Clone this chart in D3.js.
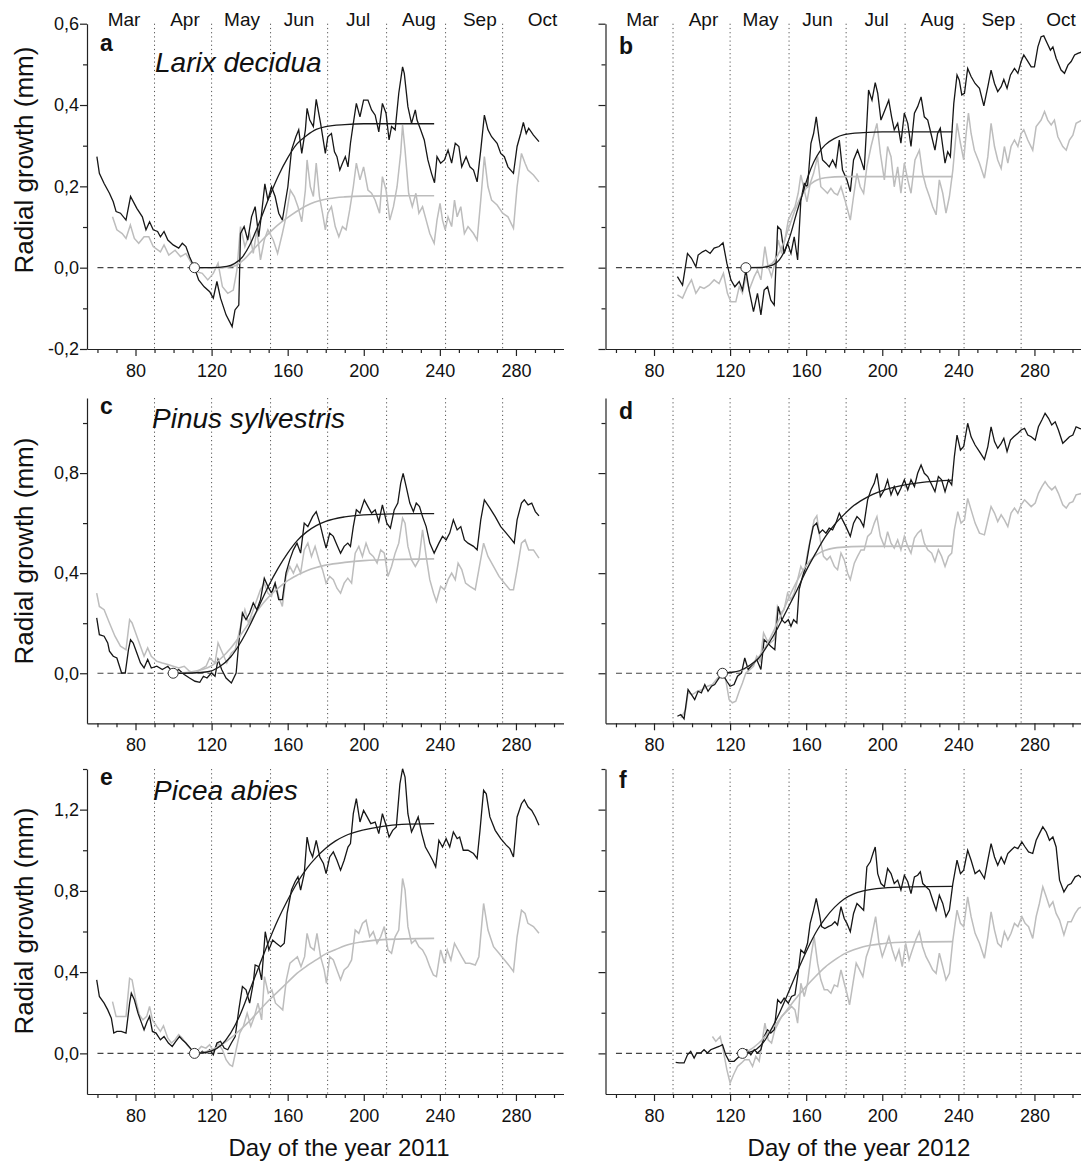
<!DOCTYPE html>
<html>
<head>
<meta charset="utf-8">
<script src="https://cdn.jsdelivr.net/npm/d3@7"></script>
<style>
body { margin: 0; background: #fff; }
svg { display: block; }
text { font-family: Arial, "Liberation Sans", sans-serif; fill: #111; }
</style>
</head>
<body>
<div id="chart"></div>
<script>
// tick labels / categories
const months = ["Mar", "Apr", "May", "Jun", "Jul", "Aug", "Sep", "Oct"];
const monthMid = [74, 106, 136, 166, 197, 229, 261, 294];
const monthBounds = [90, 120, 151, 181, 212, 243, 273];
const xMajor = [80, 120, 160, 200, 240, 280];
const xMinor = [60, 70, 90, 100, 110, 130, 140, 150, 170, 180, 190, 210, 220, 230, 250, 260, 270, 290, 300];
const species = ["Larix decidua", "Pinus sylvestris", "Picea abies"];
const letters = ["a", "b", "c", "d", "e", "f"];
const years = [2011, 2012];
const onsetDays = [111, 128.3, 99.8, 116, 111, 126.5];

// panel a: Larix 2011  [day, radial growth mm]
const aBlack = [[59.7,0.273],[61,0.232],[63.5,0.207],[66.3,0.183],[68.3,0.162],[69.8,0.138],[72.1,0.134],[75,0.117],[77.4,0.175],[80.7,0.146],[83.6,0.125],[85.5,0.093],[87.4,0.113],[89.3,0.093],[91.6,0.089],[93.1,0.076],[95,0.089],[97,0.068],[99.8,0.056],[102.7,0.048],[104.6,0.06],[106.5,0.052],[108.4,0.027],[111,0],[113.2,-0.03],[116.1,-0.047],[119,-0.059],[120.9,-0.075],[122.8,-0.034],[124.7,-0.075],[127.6,-0.116],[130.8,-0.145],[132.3,-0.104],[134.3,-0.092],[135.2,0.084],[137.1,0.101],[139,0.068],[141,0.125],[142.9,0.15],[144.8,0.076],[146.3,0.134],[148,0.206],[149.6,0.166],[151.5,0.199],[153.4,0.175],[155.3,0.134],[157.2,0.117],[160.1,0.199],[162,0.289],[164.3,0.322],[165.8,0.339],[167.4,0.281],[169.3,0.339],[170.2,0.392],[171.6,0.363],[173.5,0.347],[175,0.414],[177.3,0.355],[179.8,0.281],[181.1,0.322],[183,0.33],[184.6,0.285],[185.9,0.273],[187.4,0.24],[188.8,0.257],[190.3,0.273],[191.7,0.248],[193,0.306],[194.5,0.355],[196.1,0.404],[198,0.371],[199.9,0.412],[202.2,0.412],[204.1,0.388],[206,0.375],[207.9,0.334],[209.8,0.404],[211.7,0.38],[213.3,0.314],[214.6,0.347],[216.5,0.339],[218.4,0.429],[220.4,0.494],[221.3,0.478],[223.2,0.396],[225.1,0.355],[227.1,0.388],[228,0.363],[229.9,0.339],[231.8,0.314],[233.7,0.265],[235.6,0.232],[237.2,0.209],[238.5,0.273],[240.4,0.257],[242.4,0.265],[244.3,0.289],[246.2,0.257],[248.1,0.306],[250,0.298],[251.5,0.248],[253.8,0.273],[255.8,0.248],[257.7,0.24],[259.6,0.211],[261.5,0.289],[263.4,0.375],[265.3,0.339],[267.2,0.322],[270.1,0.306],[272,0.281],[273.9,0.273],[275.8,0.248],[278.7,0.232],[280.6,0.298],[282.5,0.33],[283.9,0.357],[285.4,0.33],[286.7,0.343],[289.2,0.326],[292.1,0.31]];
const aGray = [[67.9,0.125],[70.2,0.093],[73,0.084],[75,0.072],[77.3,0.105],[79.4,0.072],[81.7,0.06],[84.5,0.076],[87,0.076],[89.3,0.052],[93.1,0.039],[95,0.056],[97.5,0.031],[100.8,0.043],[103.7,0.027],[106.5,0.035],[109.4,0.011],[112.3,-0.01],[115.1,-0.014],[118,-0.03],[120.9,-0.014],[123.4,0.011],[125.7,-0.047],[128.5,-0.063],[131.4,-0.055],[133.3,-0.006],[135.2,0.101],[137.5,0.052],[140,0.084],[141.9,0.035],[143.8,0.093],[145.7,0.019],[147.7,0.068],[149.6,0.093],[152.4,0.068],[154.7,0.035],[157.2,0.084],[159.1,0.125],[161.4,0.191],[163.5,0.175],[165.4,0.15],[167.4,0.113],[169.3,0.191],[170.2,0.265],[171.9,0.199],[173.5,0.175],[175,0.257],[176.7,0.175],[178.3,0.134],[179.8,0.093],[181.1,0.134],[183,0.15],[185,0.101],[186.9,0.076],[188.8,0.101],[190.7,0.093],[192.6,0.142],[194.5,0.199],[196.1,0.257],[198,0.216],[199.9,0.248],[202.2,0.191],[204.1,0.183],[206,0.166],[208.3,0.134],[209.8,0.224],[211.7,0.191],[213.7,0.117],[215.6,0.15],[217.5,0.199],[219.4,0.281],[220.4,0.351],[221.7,0.289],[223.6,0.183],[225.5,0.15],[227.4,0.183],[229,0.134],[230.9,0.15],[232.8,0.117],[234.7,0.084],[237,0.06],[238.5,0.117],[240.1,0.158],[241.4,0.117],[242.8,0.093],[244.3,0.125],[246.2,0.101],[247.7,0.166],[249.1,0.125],[251,0.15],[252.9,0.084],[254.8,0.101],[257.7,0.084],[259.6,0.068],[261.5,0.166],[263.4,0.273],[265.3,0.199],[267.2,0.166],[270.1,0.154],[273,0.134],[275.8,0.125],[278.7,0.097],[280.6,0.199],[282.9,0.281],[284.8,0.257],[286.3,0.24],[289.2,0.228],[292.1,0.211]];
const aFitBlack = [[111,0],[120,0],[128,0.003],[132,0.01],[136,0.025],[140,0.055],[145,0.11],[150,0.17],[155,0.225],[160,0.27],[165,0.305],[170,0.325],[175,0.34],[180,0.347],[190,0.352],[200,0.354],[237,0.354]];
const aFitGray = [[111,0],[125,0],[132,0.004],[137,0.02],[142,0.045],[147,0.07],[152,0.093],[157,0.113],[162,0.13],[167,0.145],[172,0.157],[177,0.165],[182,0.17],[190,0.174],[200,0.176],[237,0.177]];

// panel b: Larix 2012
const bBlack = [[92.3,-0.022],[95,-0.043],[97.6,0.035],[99.7,0.023],[102,0.002],[103.2,0.031],[105.5,0.039],[107.2,0.043],[109.5,0.035],[111.6,0.048],[114.2,0.052],[116.3,0.061],[118.3,0.011],[120.4,-0.03],[122.5,-0.047],[124.8,-0.034],[126.5,-0.055],[128.3,-0.006],[130,-0.055],[132.3,-0.108],[134.4,-0.063],[136.2,-0.116],[137.9,-0.055],[139.7,-0.047],[141.4,-0.08],[143.2,-0.092],[145,0.101],[146.7,0.093],[148.4,0.035],[150.2,0.06],[152,0.035],[153.7,0.076],[155.5,0.019],[157.2,0.166],[159,0.207],[160.7,0.199],[162.5,0.306],[163.9,0.33],[165.3,0.371],[166.9,0.314],[168.6,0.265],[170.4,0.257],[172.1,0.248],[173.9,0.265],[175.6,0.248],[177.4,0.314],[179.1,0.24],[181.4,0.216],[183.2,0.187],[184.9,0.265],[187,0.289],[188.8,0.265],[190.5,0.24],[191.8,0.347],[192.8,0.437],[194.6,0.412],[196.3,0.455],[197.6,0.429],[199.3,0.363],[201.4,0.388],[203.4,0.412],[204.9,0.371],[206.3,0.339],[208.1,0.355],[209.8,0.306],[211.6,0.38],[213.4,0.355],[215.1,0.298],[216.9,0.38],[218.6,0.396],[220.4,0.42],[222.1,0.371],[223.9,0.363],[225.6,0.33],[227.7,0.289],[229.1,0.33],[230.5,0.343],[231.8,0.298],[233,0.257],[234.4,0.285],[235.8,0.273],[237.6,0.404],[239.3,0.474],[240.5,0.461],[241.8,0.425],[243.2,0.429],[244.9,0.49],[246.7,0.47],[248.8,0.453],[251.1,0.441],[253.4,0.398],[255.5,0.445],[257.2,0.486],[259,0.453],[260.7,0.433],[262.5,0.445],[263.9,0.463],[265.6,0.441],[267.4,0.474],[269.5,0.49],[271.3,0.478],[273,0.507],[274.4,0.523],[276.2,0.51],[278.3,0.494],[280,0.494],[281.8,0.543],[283.5,0.568],[284.9,0.57],[286.7,0.552],[288.4,0.535],[289.7,0.543],[291.4,0.515],[294,0.486],[295.8,0.478],[297.6,0.498],[299.3,0.507],[301.1,0.523],[302.8,0.527],[305.1,0.531]];
const bGray = [[92.3,-0.067],[95,-0.075],[97.6,-0.047],[99.7,-0.03],[102,-0.063],[104.2,-0.047],[106.3,-0.051],[109,-0.043],[111.6,-0.03],[114.2,-0.039],[116.5,-0.014],[118.6,-0.063],[120.4,-0.084],[123,-0.084],[124.8,-0.047],[126.5,-0.063],[128.3,-0.022],[130,-0.055],[132.7,-0.022],[134.4,-0.006],[136.2,-0.03],[138.3,0.052],[140,0.002],[141.8,-0.022],[143.5,0.011],[145.3,0.068],[147.1,0.035],[148.8,0.068],[150.6,0.117],[152.3,0.134],[154.1,0.15],[155.8,0.183],[157.2,0.228],[158.6,0.199],[160.4,0.162],[162.1,0.207],[163.9,0.232],[166,0.273],[167.7,0.199],[169.5,0.191],[171.2,0.183],[173,0.195],[174.8,0.183],[176.5,0.179],[178.3,0.199],[180.4,0.166],[181.8,0.142],[183.2,0.117],[184.9,0.175],[186.7,0.232],[188.4,0.199],[190.2,0.183],[191.9,0.248],[194.1,0.298],[195.8,0.33],[197.2,0.355],[199,0.281],[201.1,0.216],[202.8,0.298],[204.6,0.273],[206.3,0.199],[208.1,0.248],[209.8,0.183],[211.6,0.257],[213.4,0.216],[215.1,0.183],[217.2,0.265],[219.5,0.289],[221.2,0.232],[223,0.199],[224.8,0.175],[226.5,0.15],[228.3,0.13],[230,0.216],[231.8,0.183],[233.5,0.134],[235.3,0.175],[237.1,0.24],[239.3,0.355],[241.1,0.306],[242.8,0.265],[244.1,0.33],[245.3,0.38],[246.7,0.33],[248.4,0.289],[251.1,0.257],[253.7,0.22],[255.5,0.273],[257.2,0.355],[259,0.298],[260.7,0.265],[262.5,0.244],[264.2,0.298],[266,0.257],[267.7,0.298],[269.5,0.314],[271.3,0.298],[273,0.33],[274.4,0.339],[276.5,0.314],[279.1,0.289],[280.9,0.347],[283.5,0.363],[285.3,0.384],[287,0.363],[288.8,0.351],[290.5,0.363],[292.3,0.322],[294.9,0.298],[296.7,0.289],[298.4,0.314],[300.2,0.326],[301.9,0.355],[305.1,0.363]];
const bFitBlack = [[128.3,0],[136,0],[140,0.003],[143,0.008],[146,0.02],[149,0.045],[152,0.085],[155,0.135],[158,0.18],[161,0.225],[164,0.26],[167,0.285],[170,0.302],[175,0.318],[180,0.327],[190,0.332],[200,0.334],[237,0.334]];
const bFitGray = [[128.3,0],[138,0.002],[142,0.01],[145,0.03],[148,0.06],[151,0.1],[154,0.14],[157,0.172],[160,0.195],[163,0.208],[166,0.216],[170,0.221],[180,0.224],[237,0.224]];

// panel c: Pinus 2011
const cBlack = [[59.6,0.221],[61,0.154],[63.5,0.148],[65.4,0.121],[66.3,0.088],[68.3,0.068],[70.2,0.061],[72.7,0.001],[74.6,0.001],[76.3,0.094],[77.4,0.134],[78.8,0.121],[80.7,0.081],[82.6,0.041],[84.5,0.021],[86.4,0.055],[88.3,0.021],[91.2,0.028],[94.1,0.015],[97,0.028],[99.8,0.001],[102.7,0.015],[105.6,-0.005],[108.4,-0.019],[111.3,-0.032],[113.8,-0.036],[115.7,-0.012],[117.6,-0.019],[119.9,0.001],[121.8,-0.012],[123.4,0.055],[125.3,0.015],[127.6,-0.019],[130.4,-0.039],[132.9,0.001],[134.3,0.121],[136.2,0.241],[138.1,0.214],[140,0.241],[141.9,0.281],[143.8,0.254],[145.7,0.294],[147.7,0.38],[149.6,0.347],[151.5,0.32],[153.4,0.36],[155.3,0.294],[157.2,0.294],[159.1,0.4],[161.1,0.453],[163,0.493],[164.9,0.52],[166.8,0.48],[168.7,0.6],[170.6,0.586],[173.1,0.626],[175,0.646],[176.9,0.6],[178.8,0.54],[180.2,0.5],[182.1,0.56],[184,0.547],[185.9,0.513],[187.8,0.48],[189.7,0.507],[191.6,0.52],[193,0.507],[194.5,0.586],[196.1,0.653],[198,0.64],[200.3,0.693],[202.2,0.666],[204.1,0.64],[206,0.653],[207.9,0.606],[209.8,0.673],[212.1,0.6],[214,0.58],[216,0.653],[217.9,0.68],[219.4,0.759],[220.7,0.799],[222.3,0.746],[224.2,0.68],[226.1,0.646],[227.6,0.68],[229.3,0.666],[230.9,0.626],[232.8,0.586],[234.7,0.52],[237,0.48],[239.5,0.52],[241.4,0.547],[243.3,0.533],[245.2,0.56],[247.1,0.613],[249.1,0.573],[251,0.586],[252.9,0.533],[254.8,0.52],[257.7,0.507],[259.6,0.493],[261.5,0.613],[263.4,0.693],[266.3,0.66],[269.1,0.626],[272,0.586],[274.9,0.56],[277.8,0.533],[279.1,0.52],[280.6,0.613],[282.9,0.68],[284.4,0.693],[286.4,0.673],[288.3,0.68],[290.2,0.646],[292.1,0.629]];
const cGray = [[59.6,0.32],[61,0.267],[63.5,0.254],[66.3,0.201],[69.2,0.148],[72.1,0.108],[75,0.094],[76.9,0.214],[78.2,0.201],[80.1,0.161],[82.6,0.108],[84.5,0.068],[86.4,0.101],[88.3,0.068],[91.2,0.048],[94.1,0.041],[97,0.035],[99.8,0.028],[102.7,0.021],[105.6,0.028],[108.4,0.008],[111.3,0.001],[114.2,0.015],[117.1,0.028],[119,0.061],[121.8,0.041],[123.4,0.121],[125.7,0.081],[128,0.041],[130.4,0.081],[132.4,0.094],[135.2,0.188],[137.5,0.254],[139.4,0.201],[141.3,0.241],[143.8,0.294],[145.7,0.334],[147.7,0.36],[149.6,0.32],[151.5,0.307],[153.4,0.36],[155.3,0.307],[157.2,0.267],[159.1,0.387],[161.1,0.427],[163,0.4],[164.9,0.434],[166.8,0.4],[168.7,0.493],[170.6,0.52],[172.5,0.467],[174.4,0.507],[176.4,0.453],[178.3,0.414],[180.2,0.36],[182.1,0.387],[184,0.374],[185.9,0.34],[187.8,0.32],[189.7,0.36],[191.6,0.38],[193.6,0.36],[195.5,0.48],[197.4,0.507],[199.3,0.467],[201.2,0.52],[203.1,0.48],[205,0.467],[207,0.44],[208.9,0.493],[210.8,0.48],[212.7,0.387],[214.6,0.427],[216.5,0.48],[218.4,0.52],[220.4,0.62],[221.7,0.6],[223.2,0.507],[225.1,0.453],[227.1,0.427],[229,0.453],[230.9,0.573],[232.8,0.467],[234.7,0.374],[236.7,0.32],[238.2,0.287],[240.4,0.347],[242.4,0.334],[244.3,0.374],[246.2,0.4],[248.1,0.374],[249.6,0.44],[251.5,0.414],[253.5,0.36],[255.8,0.347],[258.6,0.334],[260.5,0.414],[263,0.52],[265.3,0.467],[268.2,0.427],[271.1,0.387],[274,0.36],[276.8,0.334],[278.7,0.334],[280.6,0.414],[282.9,0.52],[284.8,0.533],[286.7,0.493],[289.2,0.493],[292.1,0.46]];
const cFitBlack = [[99.8,0],[110,0.001],[118,0.006],[124,0.025],[130,0.065],[135,0.12],[140,0.19],[145,0.27],[150,0.35],[155,0.42],[160,0.48],[165,0.53],[170,0.565],[175,0.59],[180,0.607],[190,0.625],[200,0.633],[215,0.637],[237,0.638]];
const cFitGray = [[99.8,0],[108,0.004],[115,0.015],[120,0.03],[125,0.06],[130,0.1],[135,0.15],[140,0.205],[145,0.26],[150,0.305],[155,0.34],[160,0.37],[165,0.392],[170,0.41],[175,0.423],[180,0.432],[190,0.443],[200,0.45],[220,0.455],[237,0.457]];

// panel d: Pinus 2012
const dBlack = [[92.3,-0.172],[94.1,-0.165],[95.8,-0.182],[97.9,-0.065],[99.7,-0.085],[101.4,-0.105],[103.2,-0.072],[104.9,-0.078],[106.7,-0.045],[108.4,-0.072],[110.2,-0.052],[111.9,-0.045],[114.2,-0.019],[116,-0.003],[118.3,-0.032],[120,-0.052],[122.1,-0.045],[123.9,-0.012],[126,0.001],[127.7,0.061],[129.5,0.015],[131.8,0.035],[134,0.055],[136.2,0.015],[137.9,0.134],[139.7,0.121],[141.4,0.108],[143.5,0.094],[145.3,0.267],[147.1,0.214],[148.8,0.201],[150.6,0.214],[152,0.188],[153.4,0.214],[155.1,0.201],[156.3,0.334],[158.1,0.387],[159.8,0.427],[161.9,0.52],[163.7,0.586],[165.5,0.6],[166.9,0.56],[168.6,0.573],[170.4,0.56],[172.1,0.58],[173.9,0.573],[175.6,0.6],[177.4,0.64],[179.1,0.613],[180.9,0.586],[183.2,0.547],[184.9,0.6],[186.7,0.626],[188.4,0.613],[190.2,0.586],[192.3,0.693],[194.1,0.733],[195.8,0.759],[197.2,0.799],[199,0.706],[201.1,0.733],[202.8,0.773],[204.6,0.713],[206.3,0.746],[208.1,0.713],[209.8,0.739],[211.6,0.773],[213.4,0.733],[215.1,0.773],[216.9,0.746],[218.6,0.799],[220.4,0.832],[222.1,0.799],[223.9,0.786],[225.6,0.759],[227.7,0.726],[229.5,0.786],[231.2,0.773],[233,0.726],[234.8,0.773],[236.5,0.753],[237.9,0.866],[239.3,0.952],[241.1,0.892],[242.8,0.906],[244.9,0.999],[246.7,0.945],[248.8,0.912],[251.1,0.886],[253.7,0.855],[255.5,0.906],[257.2,0.985],[259,0.926],[260.7,0.899],[262.5,0.919],[263.9,0.939],[265.6,0.886],[267.4,0.932],[269.1,0.945],[271.3,0.959],[273,0.972],[274.8,0.979],[276.5,0.952],[278.3,0.945],[280.4,0.932],[282.1,0.985],[283.9,1.012],[285.6,1.039],[287.4,1.019],[289.1,0.992],[290.9,1.005],[292.6,0.972],[294.9,0.919],[296.7,0.932],[298.4,0.945],[300.2,0.952],[301.9,0.985],[303.7,0.979],[305.1,0.975]];
const dGray = [[94.1,-0.178],[96.7,-0.145],[97.9,-0.078],[100.2,-0.085],[102.8,-0.072],[105.5,-0.065],[108.1,-0.052],[110.7,-0.045],[113.4,-0.019],[116,-0.005],[117.7,-0.025],[119.5,-0.105],[121.2,-0.118],[123,-0.112],[124.8,-0.072],[126.5,-0.039],[128.3,0.001],[130.5,0.015],[132.3,0.028],[134,0.068],[135.8,0.048],[137.6,0.161],[139.3,0.134],[141.1,0.121],[143.2,0.134],[144.9,0.267],[146.7,0.241],[148.4,0.254],[150.2,0.32],[152,0.294],[153.7,0.32],[155.5,0.374],[157.2,0.427],[159,0.4],[160.7,0.48],[162.5,0.547],[164.2,0.613],[165.6,0.629],[167.4,0.533],[169.1,0.467],[170.9,0.453],[172.6,0.467],[174.8,0.427],[176.5,0.414],[178.3,0.48],[180,0.453],[181.8,0.4],[183.2,0.374],[185.3,0.44],[187,0.467],[188.8,0.493],[190.5,0.493],[192.3,0.547],[194.1,0.56],[195.8,0.6],[197.2,0.626],[199,0.547],[201.1,0.507],[202.8,0.566],[204.6,0.52],[206.3,0.5],[208.1,0.533],[209.8,0.493],[211.6,0.547],[213.4,0.507],[215.1,0.48],[216.9,0.54],[218.6,0.56],[220.4,0.573],[222.1,0.52],[223.9,0.493],[226,0.48],[227.7,0.447],[229.5,0.493],[231.2,0.467],[233,0.427],[234.8,0.467],[236.5,0.48],[237.9,0.573],[239.7,0.646],[241.4,0.6],[243.2,0.613],[244.9,0.699],[246.7,0.653],[248.8,0.6],[251.1,0.56],[253.7,0.553],[255.5,0.613],[257.2,0.666],[259,0.64],[260.7,0.606],[262.5,0.633],[264.2,0.613],[266,0.586],[267.7,0.64],[269.5,0.66],[271.3,0.64],[273,0.673],[274.8,0.693],[276.5,0.68],[278.3,0.666],[280.4,0.68],[282.1,0.719],[283.9,0.746],[285.6,0.766],[287.4,0.746],[289.1,0.733],[290.9,0.746],[292.6,0.719],[294.9,0.673],[296.7,0.66],[298.4,0.68],[300.2,0.686],[301.9,0.713],[305.1,0.719]];
const dFitBlack = [[116,0],[120,0.003],[125,0.01],[130,0.03],[135,0.06],[140,0.115],[145,0.18],[150,0.255],[155,0.33],[160,0.41],[165,0.48],[170,0.545],[175,0.595],[180,0.635],[185,0.67],[190,0.695],[195,0.715],[200,0.73],[210,0.75],[220,0.762],[237,0.772]];
const dFitGray = [[116,0],[122,0.004],[127,0.015],[132,0.04],[137,0.085],[142,0.155],[147,0.235],[152,0.32],[156,0.38],[160,0.43],[164,0.465],[168,0.485],[172,0.496],[178,0.503],[190,0.507],[237,0.508]];

// panel e: Picea 2011
const eBlack = [[59.6,0.362],[61,0.28],[63.5,0.247],[65.4,0.214],[67.3,0.173],[68.6,0.1],[70.2,0.108],[72.5,0.108],[75,0.1],[76.9,0.247],[77.8,0.296],[79.4,0.264],[81.3,0.198],[83.2,0.149],[84.5,0.116],[86.1,0.157],[87.4,0.182],[88.9,0.108],[90.8,0.1],[93.1,0.067],[95,0.083],[97.3,0.051],[99.3,0.034],[101.2,0.059],[103.1,0.083],[104.6,0.067],[106.5,0.051],[108.8,0.026],[110.9,0],[113.2,-0.007],[115.1,0.01],[117,0.002],[119,0.018],[120.9,-0.007],[122.8,0.051],[124.7,0.059],[126.6,0.026],[128.5,0.018],[130.4,0.051],[132.4,0.083],[134.3,0.214],[136.2,0.329],[138.1,0.313],[140,0.247],[141.9,0.345],[142.9,0.435],[144.8,0.427],[146.3,0.362],[148.2,0.599],[150.1,0.509],[152.1,0.558],[154,0.542],[156.3,0.525],[158.2,0.542],[159.7,0.689],[162,0.804],[163.9,0.845],[165.4,0.869],[166.8,0.804],[168.7,0.885],[170.2,1.065],[171.6,1],[173.1,0.967],[175,1.049],[176.9,0.967],[178.8,0.935],[180.2,0.885],[182.1,0.967],[184,0.992],[185.9,0.951],[187.8,0.902],[189.7,0.951],[191.7,1.016],[193,1.033],[194.5,1.18],[196.1,1.254],[198,1.139],[199.9,1.196],[201.8,1.164],[203.7,1.131],[206,1.139],[207.9,1.082],[209.8,1.18],[211.7,1.123],[213.3,1.065],[215.2,1.098],[217.1,1.115],[219,1.327],[220.4,1.401],[221.7,1.36],[223.2,1.18],[225.1,1.09],[227.1,1.131],[228.6,1.164],[230.5,1.082],[232.4,1.016],[234.3,0.984],[236.2,0.951],[237.8,0.918],[239.5,1.049],[241.4,1.016],[243.3,1.057],[245.2,1.016],[247.1,1.09],[249.1,1.057],[250.4,1.065],[252.3,1],[254.8,1],[257.7,0.984],[259.6,0.959],[261.1,1.098],[263,1.295],[264.4,1.278],[266.3,1.164],[269.1,1.098],[272,1.057],[274.9,1.025],[276.8,1.008],[278.7,0.967],[280.6,1.164],[282.9,1.229],[284.4,1.249],[286.4,1.213],[288.3,1.196],[290.2,1.164],[292.1,1.123]];
const eGray = [[67.9,0.255],[69.8,0.182],[72.1,0.182],[75,0.182],[76.9,0.37],[78.2,0.362],[80.1,0.264],[82,0.19],[83.9,0.165],[85.9,0.182],[87.4,0.231],[88.9,0.165],[91.2,0.133],[93.1,0.108],[94.7,0.136],[97,0.075],[98.9,0.051],[100.8,0.067],[102.7,0.092],[104.6,0.075],[106.9,0.043],[109.4,0.018],[112.3,0.01],[114.6,0.034],[117,0.026],[119,0.043],[120.9,0.01],[123.4,0.051],[125.7,0.018],[127.6,-0.031],[129.5,-0.056],[131,-0.064],[132.9,0.018],[134.8,0.1],[136.7,0.133],[138.7,0.198],[140.6,0.133],[142.5,0.182],[144.4,0.247],[146.3,0.165],[147.8,0.378],[149.8,0.296],[151.7,0.313],[153.6,0.247],[155.5,0.231],[157.4,0.214],[159.3,0.362],[161.2,0.444],[163.2,0.46],[165.1,0.476],[167,0.427],[168.9,0.476],[170.2,0.591],[171.9,0.525],[173.9,0.509],[175.4,0.591],[177.3,0.476],[179.2,0.411],[180.4,0.345],[182.1,0.476],[184,0.46],[185.9,0.411],[187.8,0.362],[189.7,0.411],[191.7,0.427],[193.6,0.46],[195.5,0.607],[197.4,0.591],[199.3,0.64],[201.2,0.656],[203.1,0.574],[205,0.599],[207,0.542],[208.9,0.574],[210.8,0.624],[212.7,0.509],[214.6,0.493],[216.5,0.574],[218.4,0.607],[220.4,0.861],[221.7,0.804],[223.2,0.624],[225.1,0.542],[227.1,0.558],[229,0.525],[230.9,0.509],[232.8,0.476],[234.7,0.427],[236.6,0.386],[238.2,0.378],[240.4,0.509],[242.4,0.444],[243.9,0.509],[245.8,0.46],[247.7,0.542],[249.6,0.509],[251.5,0.476],[253.5,0.444],[255.8,0.444],[258.6,0.435],[260.5,0.476],[263,0.738],[265.3,0.607],[268.2,0.525],[271.1,0.493],[274,0.46],[276.8,0.427],[278.7,0.403],[280.6,0.574],[282.9,0.705],[284.8,0.689],[286.3,0.64],[289.2,0.624],[292.1,0.591]];
const eFitBlack = [[110.9,0],[116,0.003],[120,0.012],[125,0.04],[130,0.1],[135,0.19],[140,0.31],[145,0.43],[150,0.55],[155,0.66],[160,0.755],[165,0.84],[170,0.91],[175,0.965],[180,1.01],[185,1.045],[190,1.07],[200,1.1],[210,1.118],[220,1.127],[237,1.131]];
const eFitGray = [[110.9,0],[118,0.01],[124,0.035],[130,0.075],[135,0.115],[140,0.16],[145,0.21],[150,0.26],[155,0.305],[160,0.35],[165,0.395],[170,0.43],[175,0.46],[180,0.49],[185,0.51],[190,0.53],[200,0.55],[210,0.56],[237,0.566]];

// panel f: Picea 2012
const fBlack = [[91.4,-0.044],[93.2,-0.047],[95.8,-0.047],[97.6,-0.007],[99.3,0.01],[101.1,-0.023],[102.5,0.002],[104.6,0.002],[106.3,0.018],[108.1,0.002],[109.8,0.018],[111.9,0.026],[114.2,0.034],[116,0.043],[117.7,-0.007],[119.5,-0.039],[122.1,-0.039],[124.8,-0.015],[126.9,0],[128.8,0.018],[130.9,-0.007],[132.7,0.018],[134.4,0.002],[136.2,0.018],[137.9,0.083],[139.7,0.116],[141.4,0.1],[143.2,0.116],[145,0.264],[146.7,0.247],[148.4,0.272],[150.6,0.247],[152.3,0.28],[154.1,0.288],[155.5,0.378],[157.2,0.509],[159,0.493],[160.7,0.542],[162.1,0.64],[163.9,0.705],[165.3,0.763],[166.9,0.689],[168.1,0.624],[169.8,0.615],[171.6,0.624],[173.4,0.632],[175.1,0.648],[176.5,0.632],[178.3,0.722],[180,0.664],[181.4,0.64],[183.2,0.599],[184.9,0.689],[186.7,0.738],[188.4,0.722],[190.2,0.705],[191.9,0.918],[193.7,0.943],[195.1,0.984],[196.3,1.016],[197.6,0.885],[199.3,0.836],[201.1,0.82],[202.8,0.91],[204.6,0.885],[206.3,0.836],[208.1,0.853],[209.8,0.804],[211.6,0.877],[213.4,0.845],[215.1,0.787],[216.9,0.869],[218.6,0.877],[220,0.894],[221.3,0.836],[223,0.82],[224.8,0.804],[226.5,0.755],[228.3,0.705],[230,0.779],[231.8,0.738],[233.5,0.673],[235.3,0.705],[237.1,0.836],[239.3,0.951],[241.1,0.885],[242.8,0.902],[244.9,1],[246.7,0.951],[248.8,0.885],[251.1,0.902],[253.7,0.861],[255.5,0.951],[257.2,1.033],[259,0.967],[260.7,0.926],[262.5,0.967],[264.2,0.935],[266,0.984],[267.7,1],[269.5,1.016],[271.3,1.008],[273.4,1.041],[275.1,1.016],[276.9,0.992],[279.1,0.984],[280.9,1.049],[282.6,1.082],[284.4,1.115],[286.2,1.09],[287.9,1.049],[289.7,1.065],[291.4,1.016],[293.2,0.853],[295.5,0.795],[297.6,0.828],[299.3,0.836],[301.4,0.869],[303.2,0.877],[305.1,0.861]];
const fGray = [[110.7,0.083],[112.5,0.059],[114.8,0.083],[116.5,0.01],[118.3,-0.08],[120,-0.146],[121.8,-0.105],[123.9,-0.064],[126,-0.047],[127.7,-0.031],[130,-0.031],[131.8,-0.064],[133.5,-0.015],[135.3,-0.039],[137,0.067],[138.3,0.149],[140,0.067],[141.8,0.051],[143.5,0.116],[145.3,0.149],[147.1,0.182],[148.8,0.198],[150.6,0.214],[152.3,0.231],[154.1,0.214],[155.5,0.149],[157.2,0.345],[159,0.28],[160.7,0.345],[162.5,0.476],[164.2,0.574],[166,0.444],[167.7,0.362],[169.5,0.313],[171.2,0.313],[173,0.296],[174.8,0.337],[176.5,0.329],[178.3,0.411],[180,0.345],[181.4,0.296],[182.8,0.239],[184.6,0.345],[186.3,0.444],[188.1,0.411],[189.8,0.378],[191.6,0.476],[193.4,0.525],[195.1,0.607],[196.5,0.673],[198.3,0.542],[200,0.476],[201.8,0.525],[203.5,0.574],[205.3,0.509],[207,0.46],[208.8,0.509],[210.5,0.427],[212.3,0.542],[214.1,0.46],[215.8,0.509],[217.6,0.558],[219.5,0.599],[221.2,0.525],[223,0.476],[224.8,0.444],[226.5,0.411],[228.3,0.394],[230,0.493],[231.8,0.427],[233.5,0.362],[235.3,0.394],[237.1,0.558],[239.3,0.705],[241.1,0.64],[242.8,0.624],[244.9,0.771],[246.7,0.673],[248.8,0.591],[251.1,0.542],[253.7,0.468],[255.5,0.574],[257.2,0.697],[259,0.607],[260.7,0.542],[262.5,0.525],[264.2,0.599],[266,0.558],[267.7,0.591],[269.5,0.64],[271.3,0.624],[273.4,0.673],[275.1,0.64],[276.9,0.624],[279.1,0.566],[280.9,0.673],[282.6,0.738],[284.4,0.82],[286.2,0.771],[287.9,0.722],[289.7,0.746],[291.4,0.689],[293.2,0.656],[295.5,0.583],[297.6,0.648],[299.3,0.648],[301.4,0.689],[303.2,0.714],[305.1,0.722]];
const fFitBlack = [[126.5,0],[130,0.005],[134,0.022],[138,0.06],[142,0.125],[146,0.2],[150,0.285],[154,0.375],[158,0.46],[162,0.54],[166,0.61],[170,0.665],[175,0.72],[180,0.76],[185,0.785],[190,0.8],[200,0.814],[215,0.82],[237,0.822]];
const fFitGray = [[126.5,0],[130,0.015],[135,0.05],[140,0.1],[145,0.155],[150,0.215],[155,0.275],[160,0.33],[165,0.38],[170,0.425],[175,0.46],[180,0.49],[185,0.51],[190,0.525],[200,0.54],[215,0.548],[237,0.55]];

// y axis setup per row
const yDomains = [[-0.2, 0.6], [-0.2, 1.1], [-0.2, 1.4]];
const yMajor = [[-0.2, 0, 0.2, 0.4, 0.6], [0, 0.4, 0.8], [0, 0.4, 0.8, 1.2]];
const yMinor = [[-0.1, 0.1, 0.3, 0.5], [0.2, 0.6, 1.0], [0.2, 0.6, 1.0, 1.4]];

// layout
let svgWidth = 1081;
let svgHeight = 1164;
let cols = [{x0: 87, x1: 563.5}, {x0: 605.5, x1: 1082}];
let rows = [
    {top: 23.7, bottom: 349, titleY: 160},
    {top: 398, bottom: 723.3, titleY: 551},
    {top: 769, bottom: 1094, titleY: 921}
];
let letterY = [[51, 54], [414, 419], [785, 788]];
let speciesPos = [{x: 155, y: 72}, {x: 152, y: 428}, {x: 153, y: 800}];
let xTitleX = [339, 859];

let svg = d3.select("#chart").append("svg")
    .attr("width", svgWidth)
    .attr("height", svgHeight);

let fmt = d => (d < 0 ? "-" : "") + Math.abs(d).toFixed(1).replace(".", ",");

let panels = [
    {row: 0, col: 0, black: aBlack, gray: aGray, fitK: aFitBlack, fitG: aFitGray},
    {row: 0, col: 1, black: bBlack, gray: bGray, fitK: bFitBlack, fitG: bFitGray},
    {row: 1, col: 0, black: cBlack, gray: cGray, fitK: cFitBlack, fitG: cFitGray},
    {row: 1, col: 1, black: dBlack, gray: dGray, fitK: dFitBlack, fitG: dFitGray},
    {row: 2, col: 0, black: eBlack, gray: eGray, fitK: eFitBlack, fitG: eFitGray},
    {row: 2, col: 1, black: fBlack, gray: fGray, fitK: fFitBlack, fitG: fFitGray}
];

panels.forEach((p, i) => {
    let r = rows[p.row];
    let c = cols[p.col];

    let x = d3.scaleLinear().domain([54.5, 305]).range([c.x0, c.x1]);
    let y = d3.scaleLinear().domain(yDomains[p.row]).range([r.bottom, r.top]);

    let g = svg.append("g");

    // month boundaries
    g.selectAll(".mline")
        .data(monthBounds)
        .enter()
        .append("line")
        .attr("x1", d => x(d)).attr("x2", d => x(d))
        .attr("y1", r.top).attr("y2", r.bottom)
        .attr("stroke", "#555")
        .attr("stroke-width", 1)
        .attr("stroke-dasharray", "1.2,3");

    // zero line
    g.append("line")
        .attr("x1", x(60)).attr("x2", x(305))
        .attr("y1", y(0)).attr("y2", y(0))
        .attr("stroke", "#444")
        .attr("stroke-width", 1.2)
        .attr("stroke-dasharray", "6,4");

    let line = d3.line().x(d => x(d[0])).y(d => y(d[1]));
    let smooth = d3.line().curve(d3.curveMonotoneX).x(d => x(d[0])).y(d => y(d[1]));

    g.append("path").datum(p.gray)
        .attr("d", line).attr("fill", "none")
        .attr("stroke", "#bdbdbd").attr("stroke-width", 1.5);
    g.append("path").datum(p.black)
        .attr("d", line).attr("fill", "none")
        .attr("stroke", "#161616").attr("stroke-width", 1.3);
    g.append("path").datum(p.fitG)
        .attr("d", smooth).attr("fill", "none")
        .attr("stroke", "#bdbdbd").attr("stroke-width", 1.6);
    g.append("path").datum(p.fitK)
        .attr("d", smooth).attr("fill", "none")
        .attr("stroke", "#1a1a1a").attr("stroke-width", 1.3);

    g.append("circle")
        .attr("cx", x(onsetDays[i]))
        .attr("cy", y(0))
        .attr("r", 5)
        .attr("fill", "#fff")
        .attr("stroke", "#333")
        .attr("stroke-width", 1);

    // axes
    let xMin = g.append("g")
        .attr("transform", `translate(0, ${r.bottom})`)
        .call(d3.axisBottom(x).tickValues(xMinor).tickSize(4).tickFormat(""));
    xMin.select(".domain").remove();
    let xMaj = g.append("g")
        .attr("transform", `translate(0, ${r.bottom})`)
        .call(d3.axisBottom(x).tickValues(xMajor).tickSize(7).tickSizeOuter(0).tickPadding(8));
    xMaj.selectAll("text").attr("font-size", "18px").attr("font-family", null);

    let yMin = g.append("g")
        .attr("transform", `translate(${c.x0}, 0)`)
        .call(d3.axisLeft(y).tickValues(yMinor[p.row]).tickSize(4).tickFormat(""));
    yMin.select(".domain").remove();
    let yMaj = g.append("g")
        .attr("transform", `translate(${c.x0}, 0)`)
        .call(d3.axisLeft(y).tickValues(yMajor[p.row]).tickSize(7).tickSizeOuter(0).tickPadding(1)
            .tickFormat(p.col === 0 ? fmt : ""));
    yMaj.selectAll("text").attr("font-size", "18px").attr("font-family", null);

    g.selectAll(".domain, .tick line").attr("stroke", "#222").attr("stroke-width", 1.2);

    // panel letter
    g.append("text")
        .attr("x", p.col === 0 ? 100 : 619)
        .attr("y", letterY[p.row][p.col])
        .attr("font-size", "23px")
        .attr("font-weight", "bold")
        .text(letters[i]);

    if (p.col === 0) {
        g.append("text")
            .attr("x", speciesPos[p.row].x)
            .attr("y", speciesPos[p.row].y)
            .attr("font-size", "28px")
            .attr("font-style", "italic")
            .text(species[p.row]);

        g.append("text")
            .attr("transform", `translate(33, ${r.titleY}) rotate(-90)`)
            .attr("text-anchor", "middle")
            .attr("font-size", "26px")
            .text("Radial growth (mm)");
    }

    if (p.row === 0) {
        g.selectAll(".month")
            .data(months)
            .enter()
            .append("text")
            .attr("x", (d, j) => x(monthMid[j]))
            .attr("y", 26)
            .attr("text-anchor", "middle")
            .attr("font-size", "19px")
            .text(d => d);
    }

    if (p.row === 2) {
        g.append("text")
            .attr("x", xTitleX[p.col])
            .attr("y", 1156)
            .attr("text-anchor", "middle")
            .attr("font-size", "24px")
            .text("Day of the year " + years[p.col]);
    }
});
</script>
</body>
</html>
